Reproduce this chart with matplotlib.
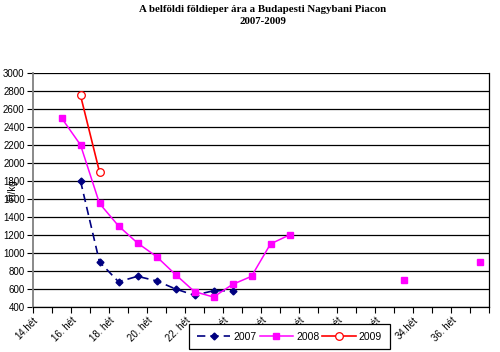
import numpy as np
import matplotlib.pyplot as plt
import matplotlib.transforms as mtransforms

# weeks shown on the category axis (14. - 37. hét)
weeks = list(range(14, 38))
week_labels = ["14.hét", "16. hét", "18. hét", "20. hét", "22. hét", "24. hét",
               "26. hét", "28. hét", "30. hét", "32. hét", "34.hét", "36. hét"]

nan = np.nan
# prices (Ft/kg) per week, NaN where no quote
price_2007 = [nan, nan, 1800, 900, 680, 740, 690, 600, 530, 580, 580,
              nan, nan, nan, nan, nan, nan, nan, nan, nan, nan, nan, nan, nan]
price_2008 = [nan, 2500, 2200, 1550, 1300, 1110, 960, 760, 570, 510, 650,
              740, 1100, 1200, nan, nan, nan, nan, nan, 700, nan, nan, nan, 900]
price_2009 = [nan, nan, 2750, 1900, nan, nan, nan, nan, nan, nan, nan,
              nan, nan, nan, nan, nan, nan, nan, nan, nan, nan, nan, nan, nan]

plt.rcParams['font.family'] = ['Liberation Sans', 'DejaVu Sans']

fig = plt.figure(figsize=(5, 3.52), dpi=100)
ax = fig.add_axes([0.066, 0.128, 0.912, 0.665])

x = np.arange(len(weeks)) + 0.5

ax.plot(x, price_2007, color='#000080', lw=1.2, ls=(0, (5, 3)),
        marker='D', ms=3.5, mfc='#000080', mec='#000080', label='2007', zorder=3)
ax.plot(x, price_2008, color='#FF00FF', lw=1.1,
        marker='s', ms=3.8, mfc='#FF00FF', mec='#FF00FF', label='2008', zorder=3)
ax.plot(x, price_2009, color='#FF0000', lw=1.2,
        marker='o', ms=5.5, mfc='white', mec='#FF0000', mew=0.9, label='2009', zorder=4)

ax.set_xlim(0, len(weeks))
ax.set_ylim(400, 3000)
ax.set_yticks(range(400, 3001, 200))
ax.yaxis.grid(True, color='black', lw=0.9)
ax.set_axisbelow(True)

# category boundaries get tick marks, every second week gets a label
ax.set_xticks(np.arange(len(weeks) + 1))
ax.set_xticklabels([])
ax.tick_params(axis='x', length=4, direction='out', color='black')
ax.tick_params(axis='y', length=4, labelsize=7, pad=2)

shift = mtransforms.ScaledTranslation(-6 / 100, -12 / 100, fig.dpi_scale_trans)
for xp, lab in zip(x[::2], week_labels):
    ax.text(xp, 0, lab, transform=ax.get_xaxis_transform() + shift,
            rotation=45, ha='right', va='center', rotation_mode='anchor',
            fontsize=7, clip_on=False)

for s in ax.spines.values():
    s.set_color('black')
    s.set_linewidth(0.9)
ax.spines['left'].set_color('#808080')
ax.spines['left'].set_linewidth(1.3)
ax.spines['top'].set_visible(False)

fig.text(0.024, 0.46, "Ft/kg", rotation=90, fontsize=7, ha='center', va='center')

fig.text(0.526, 0.985, "A belföldi földieper ára a Budapesti Nagybani Piacon\n2007-2009",
         ha='center', va='top', fontsize=7.8, fontweight='bold',
         family=['Liberation Serif', 'DejaVu Serif'], linespacing=1.45)

leg = fig.legend(loc='center', bbox_to_anchor=(0.579, 0.044), ncol=3, fontsize=7.5,
                 frameon=True, fancybox=False, edgecolor='black', framealpha=1,
                 handlelength=3.2, columnspacing=0.3, handletextpad=0.3,
                 borderpad=0.75, borderaxespad=0)
leg.get_frame().set_linewidth(0.9)

fig.savefig("out.png", dpi=100, facecolor='white')
